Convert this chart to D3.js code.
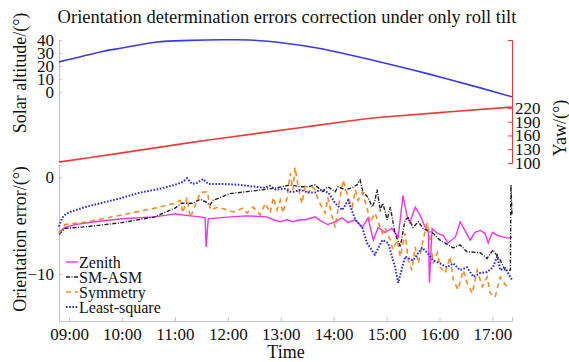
<!DOCTYPE html>
<html>
<head>
<meta charset="utf-8">
<script src="https://cdn.jsdelivr.net/npm/d3@7"></script>
<style>
  body { margin: 0; background: #fff; }
  svg { display: block; font-family: "Liberation Serif", "Times New Roman", serif; }
  .lab { font-size: 18px; fill: #111; }
</style>
</head>
<body>
<svg id="chart" width="569" height="362"></svg>
<script>
// data: [hour, value]
var solarAltitude = [[8.81,23.1],[9.59,30.8],[10.0,33.8],[10.53,37.7],[11.0,39.3],[11.6,40.0],[12.0,40.2],[12.42,40.0],[13.05,37.7],[13.69,33.8],[14.31,28.5],[14.88,23.1],[15.5,16.9],[16.15,10.0],[16.77,3.1],[17.37,-3.8]];
var yaw = [[8.81,102],[9.36,111],[10.0,122],[10.63,133],[11.25,144],[11.89,154],[12.52,164],[13.37,177],[14.37,193],[14.88,200],[16.15,211],[17.37,222]];

var zenith = [[8.81,-5.7],[8.92,-5.2],[9.11,-4.9],[9.49,-4.6],[10.0,-4.3],[10.62,-4.1],[11.0,-3.8],[11.29,-4.0],[11.48,-4.1],[11.57,-4.2],[11.59,-7.2],[11.63,-4.3],[12.04,-4.1],[12.36,-4.0],[12.74,-4.1],[12.86,-4.4],[12.99,-4.6],[13.12,-4.4],[13.23,-4.6],[13.37,-4.4],[13.46,-4.4],[13.65,-4.1],[13.78,-4.6],[13.89,-4.9],[14.03,-4.6],[14.16,-4.2],[14.27,-4.7],[14.41,-4.4],[14.54,-5.2],[14.65,-4.2],[14.75,-6.5],[14.84,-5.2],[14.97,-5.7],[15.10,-5.3],[15.22,-6.2],[15.31,-1.9],[15.39,-4.1],[15.44,-4.7],[15.54,-3.1],[15.63,-3.9],[15.73,-5.2],[15.79,-5.7],[15.81,-10.9],[15.86,-5.3],[15.96,-5.8],[16.07,-6.0],[16.16,-6.8],[16.30,-6.2],[16.39,-4.6],[16.48,-5.5],[16.58,-6.5],[16.67,-5.7],[16.77,-5.5],[16.86,-5.8],[16.92,-6.8],[17.0,-5.7],[17.09,-6.0],[17.20,-6.2],[17.30,-6.3],[17.37,-6.2]];

var smAsm = [[8.81,-5.9],[8.92,-5.3],[9.36,-5.1],[10.0,-4.7],[10.62,-4.1],[11.0,-3.2],[11.13,-2.7],[11.33,-2.7],[11.48,-2.3],[11.60,-2.6],[11.66,-2.9],[11.72,-2.4],[12.04,-1.7],[12.36,-1.5],[12.67,-1.3],[12.93,-1.1],[13.18,-0.8],[13.37,-1.0],[13.52,-1.0],[13.65,-0.8],[13.78,-1.5],[13.89,-1.0],[14.03,-1.5],[14.08,-1.0],[14.22,-1.3],[14.35,-1.1],[14.44,-0.8],[14.50,-0.3],[14.55,-1.5],[14.65,-2.1],[14.73,-3.1],[14.78,-2.4],[14.82,-1.3],[14.88,-3.4],[14.93,-2.7],[15.01,-4.4],[15.07,-3.1],[15.16,-5.8],[15.26,-7.2],[15.35,-4.4],[15.41,-4.2],[15.50,-5.2],[15.60,-4.6],[15.69,-5.3],[15.88,-5.8],[16.01,-6.5],[16.26,-7.3],[16.39,-7.0],[16.52,-7.7],[16.77,-7.8],[16.90,-8.4],[17.01,-7.5],[17.15,-8.6],[17.24,-9.6],[17.34,-9.6],[17.35,-0.8],[17.37,-3.9]];

var symmetry = [[8.81,-5.8],[8.92,-4.9],[9.36,-4.6],[10.0,-3.9],[10.62,-3.2],[11.0,-2.7],[11.10,-2.4],[11.15,-3.7],[11.23,-2.1],[11.29,-4.2],[11.48,-1.6],[11.62,-1.5],[11.64,-2.6],[11.68,-3.4],[11.81,-3.1],[12.0,-3.4],[12.10,-3.6],[12.29,-3.2],[12.36,-3.7],[12.48,-3.1],[12.61,-3.9],[12.71,-2.7],[12.80,-3.7],[12.86,-2.1],[12.93,-3.4],[12.99,-2.4],[13.04,-3.7],[13.12,-2.1],[13.18,0.4],[13.23,-1.3],[13.27,1.0],[13.33,-1.0],[13.40,-2.7],[13.46,-1.0],[13.52,-1.6],[13.59,-1.0],[13.65,-1.3],[13.71,-2.4],[13.84,-3.7],[13.89,-2.1],[13.97,-4.1],[14.03,-5.2],[14.08,-3.4],[14.18,-0.3],[14.27,-2.1],[14.35,-3.1],[14.41,-1.3],[14.46,-2.4],[14.54,-1.6],[14.63,-3.1],[14.69,-4.7],[14.78,-3.7],[14.92,-5.8],[14.97,-5.2],[15.07,-6.5],[15.12,-7.5],[15.20,-6.5],[15.26,-8.2],[15.35,-5.8],[15.41,-8.6],[15.48,-9.6],[15.54,-7.2],[15.60,-8.9],[15.69,-6.5],[15.77,-4.7],[15.82,-6.2],[15.88,-8.9],[15.96,-7.8],[16.01,-9.3],[16.11,-9.9],[16.20,-8.2],[16.26,-10.6],[16.35,-11.6],[16.45,-9.6],[16.52,-10.9],[16.62,-12.0],[16.71,-9.6],[16.81,-11.3],[16.90,-10.3],[16.96,-12.0],[17.05,-12.4],[17.15,-10.3],[17.24,-11.1],[17.30,-11.4]];

var leastSquare = [[8.81,-5.1],[8.87,-4.2],[8.94,-3.8],[9.02,-3.6],[9.30,-3.1],[9.59,-2.7],[9.96,-2.2],[10.34,-1.6],[10.72,-1.2],[11.0,-0.8],[11.15,-0.5],[11.23,-0.1],[11.32,-0.7],[11.42,-0.6],[11.53,-0.2],[11.63,-0.7],[11.85,-0.7],[12.23,-0.8],[12.52,-1.0],[12.70,-1.1],[12.80,-0.9],[12.91,-1.3],[13.08,-1.2],[13.18,-1.5],[13.27,-1.5],[13.37,-1.3],[13.52,-1.6],[13.65,-1.6],[13.74,-1.3],[13.90,-1.6],[14.03,-2.7],[14.16,-3.4],[14.27,-2.4],[14.41,-4.4],[14.54,-5.2],[14.63,-6.8],[14.78,-8.0],[14.92,-6.5],[15.03,-6.8],[15.16,-9.3],[15.22,-10.9],[15.35,-8.2],[15.50,-8.6],[15.67,-7.3],[15.77,-7.8],[15.88,-8.6],[16.01,-8.9],[16.14,-9.3],[16.26,-8.9],[16.39,-9.6],[16.52,-9.3],[16.64,-10.3],[16.77,-9.9],[16.90,-9.8],[17.01,-9.3],[17.09,-8.2],[17.15,-9.6],[17.24,-9.4],[17.37,-10.6]];

var timeTicks = [9, 10, 11, 12, 13, 14, 15, 16, 17];
var altTicks = [0, 10, 20, 30, 40];
var yawTicks = [100, 130, 160, 190, 220];
var errTicks = [0, -10];

var series = [
  { name: "Zenith", data: zenith, color: "#f032f0", dash: null, width: 1.4 },
  { name: "SM-ASM", data: smAsm, color: "#222", dash: "4,1.5,1,1.5", width: 1.4 },
  { name: "Symmetry", data: symmetry, color: "#f4892a", dash: "5,4", width: 1.6 },
  { name: "Least-square", data: leastSquare, color: "#2b2bdc", dash: "1.6,1.6", width: 2 }
];

var serif = '"Liberation Serif", "Times New Roman", serif';
var svg = d3.select("#chart");
var L = 59, R = 512;

var x = d3.scaleLinear().domain([8.81, 17.37]).range([L, R]);
var yAlt = d3.scaleLinear().domain([-54, 40]).range([162, 40]);
var yYaw = d3.scaleLinear().domain([100, 368]).range([163, 40]);
var yErr = d3.scaleLinear().domain([-14.85, 1.25]).range([321, 165]);

// 軸の共通スタイル
function styleAxis(g, color) {
  g.attr("font-family", serif).attr("font-size", 17);
  g.select(".domain").attr("stroke", color);
  g.selectAll(".tick line").attr("stroke", color);
  g.selectAll(".tick text").attr("fill", "#111");
}

// title
svg.append("text").attr("class", "lab")
  .attr("x", 287).attr("y", 23).attr("text-anchor", "middle")
  .style("font-size", "18.5px")
  .text("Orientation determination errors correction under only roll tilt");

// top panel axes
var gAlt = svg.append("g").attr("transform", `translate(${L},0)`)
  .call(d3.axisRight(yAlt).tickValues(altTicks).tickSize(3))
  .call(styleAxis, "#b8bcff");
gAlt.selectAll(".tick text").attr("text-anchor", "end").attr("x", -5);

var gYaw = svg.append("g").attr("transform", `translate(${R},0)`)
  .call(d3.axisLeft(yYaw).tickValues(yawTicks).tickSize(4))
  .call(styleAxis, "#e83a3a");
gYaw.selectAll(".tick text").attr("text-anchor", "start").attr("x", 3);

// bottom panel axes
var gx = svg.append("g").attr("transform", `translate(0,${yErr.range()[0]})`)
  .call(d3.axisTop(x).tickValues(timeTicks).tickSize(4)
    .tickFormat(d => d3.format("02")(d) + ":00"))
  .call(styleAxis, "#c4c4c4");
gx.selectAll(".tick text").attr("y", 19).attr("dy", 0);

var gErr = svg.append("g").attr("transform", `translate(${L},0)`)
  .call(d3.axisRight(yErr).tickValues(errTicks).tickSize(3))
  .call(styleAxis, "#c4c4c4");
gErr.selectAll(".tick text").attr("text-anchor", "end").attr("x", -5);

// top curves
svg.append("path").datum(solarAltitude)
  .attr("fill", "none").attr("stroke", "#3a3ae8").attr("stroke-width", 1.6)
  .attr("d", d3.line().x(d => x(d[0])).y(d => yAlt(d[1])).curve(d3.curveNatural));
svg.append("path").datum(yaw)
  .attr("fill", "none").attr("stroke", "#ea3b3b").attr("stroke-width", 1.6)
  .attr("d", d3.line().x(d => x(d[0])).y(d => yYaw(d[1])).curve(d3.curveBasis));

// error series
var errLine = d3.line().x(d => x(d[0])).y(d => yErr(d[1]));
svg.append("g").selectAll("path").data(series).enter().append("path")
  .attr("fill", "none")
  .attr("stroke", d => d.color)
  .attr("stroke-width", d => d.width)
  .attr("stroke-dasharray", d => d.dash)
  .attr("d", d => errLine(d.data));

// legend
var leg = svg.append("g").selectAll("g").data(series).enter().append("g")
  .attr("transform", (d, i) => `translate(66,${262 + i * 15})`);
leg.append("line").attr("x1", 0).attr("x2", 12)
  .attr("stroke", d => d.color).attr("stroke-width", d => d.width)
  .attr("stroke-dasharray", d => d.dash);
leg.append("text").attr("x", 13).attr("y", 5.5)
  .style("font-size", "16px").attr("fill", "#111")
  .text(d => d.name);

// axis labels
svg.append("text").attr("class", "lab")
  .attr("transform", "translate(26,73) rotate(-90)").attr("text-anchor", "middle")
  .text("Solar altitude/(°)");
svg.append("text").attr("class", "lab")
  .attr("transform", "translate(26,239) rotate(-90)").attr("text-anchor", "middle")
  .text("Orientation error/(°)");
svg.append("text").attr("class", "lab")
  .attr("transform", "translate(566,128) rotate(-90)").attr("text-anchor", "middle")
  .text("Yaw/(°)");
svg.append("text").attr("class", "lab")
  .attr("x", 286).attr("y", 358).attr("text-anchor", "middle")
  .text("Time");
</script>
</body>
</html>
